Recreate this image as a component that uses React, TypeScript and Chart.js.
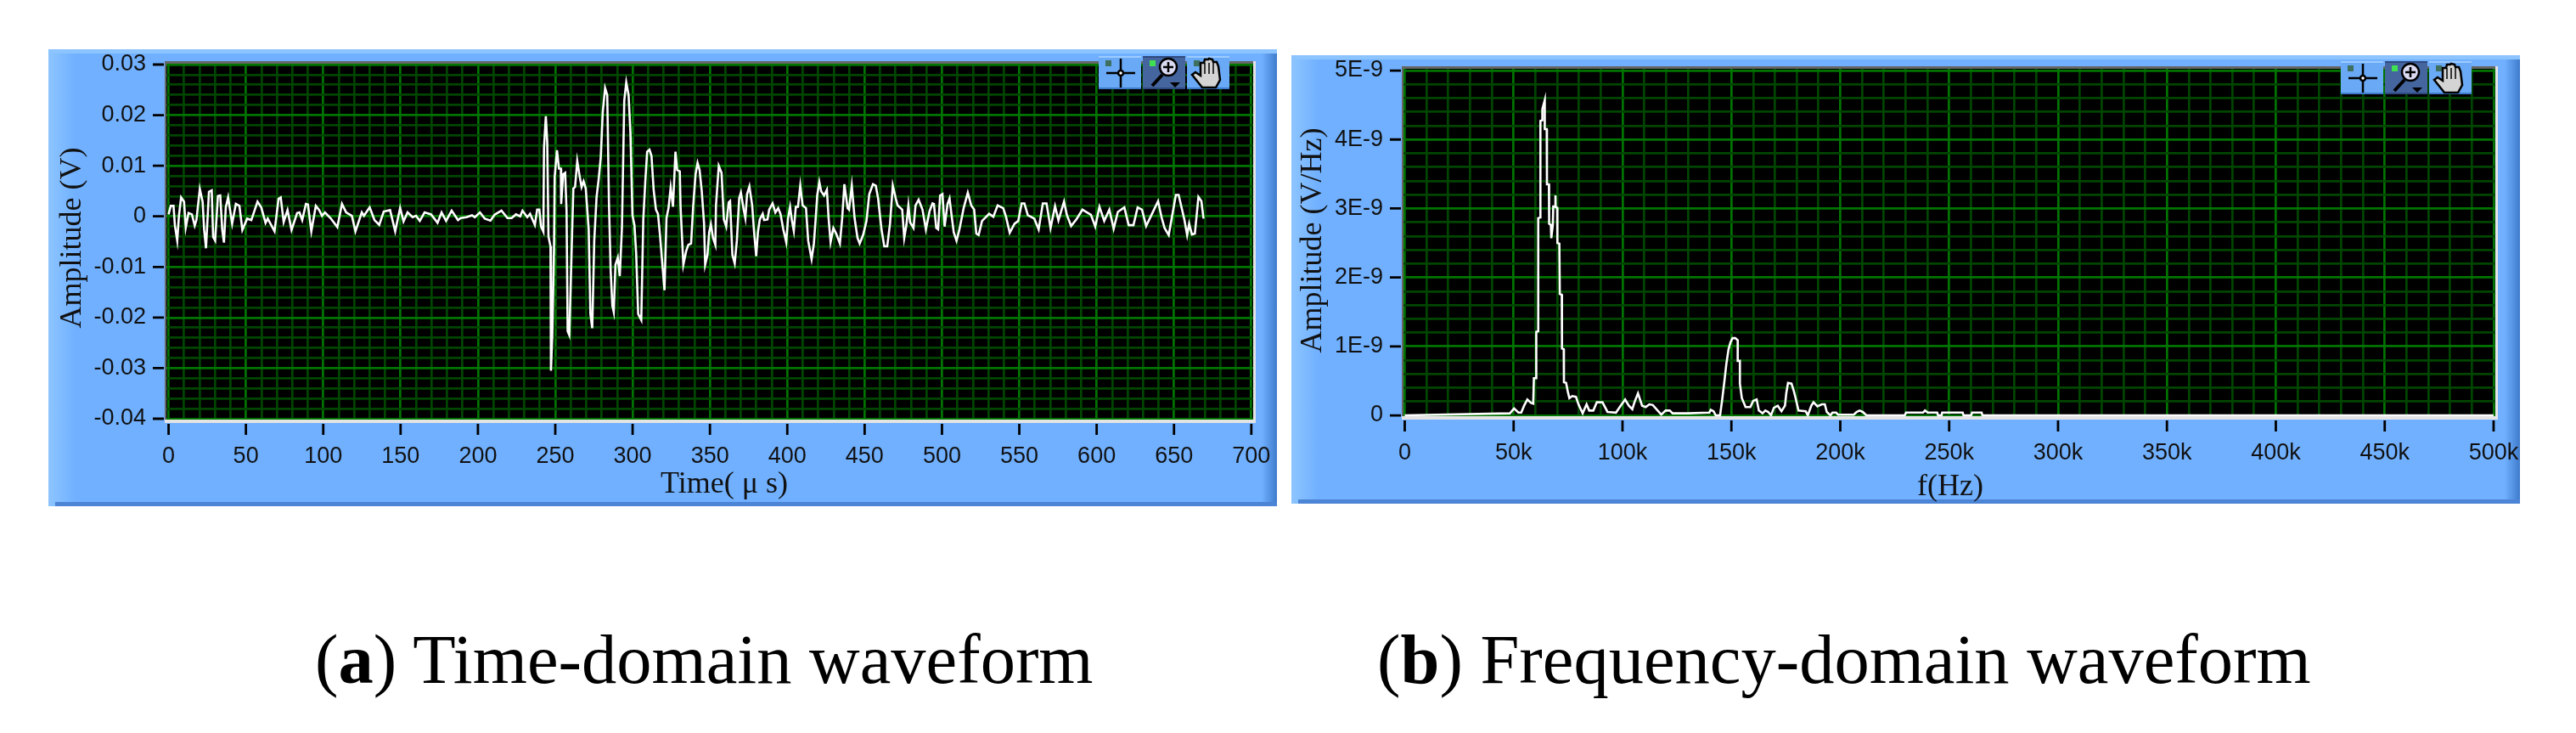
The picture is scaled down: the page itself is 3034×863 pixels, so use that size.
import React, { useEffect, useRef } from 'react';
import Chart from 'chart.js/auto';

// time-domain trace (turning points)
const timeUs = [
  0, 1.4, 3.2, 4.1, 5.6, 6.7, 8.1, 10, 11.1, 12.9, 15.1, 16.9, 18, 20.2, 22, 23, 24.2, 26.1, 27.9, 28.8,
  30.1, 31.9, 33.4, 34.7, 35.8, 37, 38.5, 41.1, 43.5, 45.8, 47.7, 50.8, 53.5, 57.5, 59.9, 62.7, 64.1, 68.5, 71.1, 72.5,
  74.4, 76.9, 79.5, 83.1, 84.6, 86.4, 88.8, 90.1, 92.3, 95.2, 97.4, 99.2, 101.1, 104.7, 109.1, 112.1, 114.8, 118.5, 120.8, 124.9,
  126.3, 130, 133.1, 136.2, 139.1, 143.2, 146.5, 149.7, 151.9, 154.5, 157.8, 160, 162.4, 165.5, 169.7, 173.9, 176.5, 179.4, 183, 187.1,
  188.9, 192.5, 196.2, 198, 201.3, 204.4, 208.1, 210.8, 215.2, 219.1, 221.8, 224.6, 227.3, 228.8, 231.9, 233.7, 236.8, 238.3, 239.7, 240.8,
  242.3, 242.7, 243.9, 244.8, 245.6, 246.9, 247.2, 248.1, 249.2, 249.6, 251.1, 252.4, 253.6, 253.8, 255.1, 256.4, 257.3, 258, 259.1, 260.6,
  261.7, 262.8, 264.2, 265.7, 267, 268.3, 269.7, 271.6, 272.7, 273.9, 275.2, 276.7, 278, 279.4, 280.7, 282.2, 283.6, 284.7, 285.8, 286.9,
  287.8, 288.9, 290.4, 291.7, 293.1, 294.6, 295.9, 297.4, 298.6, 299.9, 301.2, 302.3, 303.6, 305.6, 306.9, 308.2, 309.4, 310.9, 312.2, 313.6,
  315.1, 316.4, 317.7, 319.1, 320.6, 321.9, 323.2, 324.6, 326.1, 327.7, 328.8, 330.5, 331, 332.8, 334.7, 336, 337.8, 339.2, 340.7, 342,
  343.3, 344.7, 346.2, 346.9, 348.4, 349.5, 350.6, 352, 353.5, 353.9, 355.7, 357.5, 359, 360.5, 362.1, 363, 364.5, 366, 367.4, 368.9,
  370, 371.8, 372.9, 374, 375.5, 377.3, 378.4, 379.9, 381, 382.2, 384.1, 385, 387.2, 388.3, 390.5, 392.3, 394.1, 395.6, 397.4, 399.3,
  400.5, 401.8, 402.9, 404.2, 405.5, 406.9, 408.4, 409.9, 412.1, 413.5, 415.7, 417.2, 418.3, 419.4, 420.7, 421.9, 423.8, 425.6, 426.7, 428,
  429.8, 431.6, 434, 435.5, 436.9, 439, 439.9, 441.7, 443.5, 445.4, 446.8, 449, 451.2, 453, 455.4, 457.2, 458.7, 460.9, 462.7, 464.6,
  466.4, 468.2, 470.1, 471.3, 474.3, 475.6, 477, 478.3, 479.4, 481.6, 482.9, 484.9, 487.4, 489.6, 492, 493.9, 494.8, 496.3, 497.5, 498.8,
  500.3, 501.7, 503.6, 504.9, 506.1, 507.6, 509.4, 511.3, 514, 516.7, 518.9, 520.8, 522.2, 523.7, 525.9, 530.5, 533.2, 536, 539.6, 541.4,
  543.8, 546.9, 549.3, 551.5, 553.3, 555.5, 559.7, 562.5, 565.2, 567.6, 570.2, 573.1, 575.3, 578.9, 580.8, 583.5, 587.2, 590.8, 596.3, 599.1,
  601.8, 604.9, 608.2, 611, 613.7, 617.9, 620.7, 623.8, 626.5, 629.3, 632, 636.2, 639.7, 642.1, 643.9, 646.6, 651.2, 653, 656.7, 658.5,
  659.8, 661.6, 663.5, 665.8, 667.7, 669.1,
];
const amplitudeMv = [
  0.4, 2.07, 2.07, -1.84, -4.8, 0.11, 3.74, 2.9, -2.23, 0.67, 0.39, -1.84, -0.73, 5.42, 2.9, -2.68, -6.31, 4.86, 5.14, -4.08,
  -4.8, 4.02, 4.13, -2.68, -5.2, 1.79, 3.74, -1.45, 2.46, 2.07, -2.68, -0.45, -0.73, 2.9, 1.79, -1.28, -0.45, -2.96, 3.46, 3.74,
  -1.12, 1.23, -2.68, 0.67, 0.78, -0.73, 2.46, 2.35, -2.96, 2.07, 1.23, 0.11, 0.78, -0.34, -2.12, 2.46, 0.78, 0.11, -2.96, 0.78,
  0.11, 1.79, -0.73, -1.68, 0.95, 1.23, -2.96, 1.68, -1.01, 0.78, -0.17, 0.11, -0.89, 0.78, 0.39, -1.28, 0.78, -0.89, 1.12, -0.73,
  -0.34, -0.17, 0.22, -0.17, 0.78, -0.45, -0.84, 0.34, 1.12, -0.34, -0.34, 0.39, 0, 1.12, -0.17, 0.5, -1.68, 1.33, 1.33, -2.02,
  -3.03, 13.6, 19.8, 14.7, -3.98, -5.93, -30.5, -23.3, -5.93, 7.75, 13.06, 9.43, 9.43, 2.45, 8.31, 8.59, 1.05, -22.7, -23.5, -6.49,
  5.52, 5.8, 10.94, 8.03, 5.8, 6.92, 5.52, -2.58, -19.3, -22.1, -4.82, 3.84, 7.2, 11.66, 20.6, 25.35, 23.95, 2.73, -10.68, -17.66,
  -18.9, -9.56, -8.17, -11.8, -2.3, 22.84, 26.47, 23.95, 16.4, 0.21, -1.74, -7.33, -19.3, -20.5, -0.63, 6.92, 12.78, 13.17, 11.94, 5.24,
  1.33, 0.49, -3.7, -9, -14.6, -0.35, 1.61, 5.69, 1.89, 12.78, 9.15, 8.87, 1.89, -9.56, -6.77, -5.65, -5.37, 2.17, 8.31, 10.55,
  9.15, 4.96, -1.46, -9.56, -7.61, -3.14, -1.58, -4.26, -5.65, 2.17, 9.99, 8.59, -0.63, -2.02, 2.73, 3, -7.61, -9.28, -4.82, 3.56,
  4.68, 1.33, -0.35, 4.4, 5.91, 2.17, -2.58, -7.89, -3.14, -0.63, 0.49, -0.74, -0.63, 1.33, 2.56, 0.77, 1.61, 0.49, -2.58, -5.1,
  -0.35, 1.89, -0.63, -2.86, 1.89, 1.89, 6.08, 2.17, 1.61, -4.82, -8.45, -5.37, -0.63, 4.23, 6.8, 4.96, 4.12, 5.24, -0.35, -5.1,
  -2.3, -3.42, -5.37, -0.35, 6.36, 1.61, 1.33, 6.08, -0.35, -4.26, -5.37, -3.7, -0.91, 4.4, 6.36, 6.08, 3.56, -2.58, -5.93, -5.93,
  -1.46, 6.08, 3.56, 2.17, 1.33, -4.26, -1.74, 2.17, -1.18, -2.3, 2.17, 3.28, 1.33, -2.58, 1.05, 2.56, 2.45, -2.3, -2.58, 4.12,
  4.4, -2.02, 2.45, 3.56, 0.49, -3.14, -4.82, -2.58, 1.61, 4.68, 2.17, 1.33, -3.42, -3.7, -0.91, 0.49, -0.07, 2.17, 1.61, -0.07,
  -3.25, -1.46, -0.91, 2.56, 2.56, 0.21, -0.46, -2.58, 2.56, 2.56, -2.3, 2, -0.79, 2.89, 0.21, -1.91, -0.46, 1.33, 0.32, -2.02,
  1.89, -0.91, 1.33, -2.47, 0.88, 1.78, -1.74, -1.74, 1.78, 1.33, -1.91, 0.77, 3, -0.35, -2.3, -3.7, 4.23, 4.23, -0.63, -3.7,
  -1.46, -3.59, -3.42, 3.84, 3, -0.46,
];

// spectrum
const freqKHz = [
  0, 48.3, 50.2, 52.2, 53.5, 54.8, 56.3, 58, 59, 59.3, 60.4, 60.4, 61.3, 61.3, 62.2, 62.3, 63.2, 63.2, 64.3, 64.3,
  65.2, 65.3, 66.2, 66.3, 67.1, 67.3, 68, 68.2, 69.1, 69.2, 69.3, 70, 70.1, 71, 71.2, 72.1, 72.2, 73, 73.1, 74.1,
  74.9, 75.6, 76.9, 78.6, 79.9, 81.7, 83.5, 84.7, 86.6, 88.2, 90.8, 93.1, 97, 99.4, 101.2, 102.9, 104.5, 105.5, 107.1, 109,
  110.7, 112.3, 113.9, 117.8, 119.8, 121.7, 123, 130.1, 139.9, 140.5, 141.8, 142.8, 144.8, 145.7, 146.7, 147.7, 148.7, 149.6, 150.5, 151.8,
  152.9, 152.9, 153.9, 153.9, 154.8, 156.5, 158.7, 160, 161.6, 162.6, 164.3, 165.6, 166.9, 168.2, 169.5, 171.3, 173, 174.6, 175.2, 176,
  177.6, 178.6, 179.5, 180.8, 184.1, 185.1, 186.7, 187.7, 189.5, 191.5, 192.9, 193.8, 195.5, 196.4, 198.1, 199, 206.2, 207.5, 208.8, 210.3,
  212, 229.6, 230.2, 238, 238.9, 240.2, 244.5, 244.9, 246.5, 246.8, 256.2, 256.6, 260.1, 260.5, 264.9, 265.3, 500,
];
const amplitudeNvHz = [
  0, 0.03, 0.1, 0.04, 0.04, 0.14, 0.23, 0.18, 0.17, 0.54, 0.54, 1.21, 1.22, 2.86, 2.87, 4.27, 4.28, 4.44, 4.57, 4.15,
  4.15, 3.35, 3.35, 2.78, 2.76, 2.57, 2.76, 3.03, 3.03, 3.19, 3.02, 3.01, 2.5, 2.49, 1.76, 1.75, 0.97, 0.96, 0.48, 0.47,
  0.34, 0.25, 0.28, 0.27, 0.15, 0.03, 0.16, 0.07, 0.07, 0.19, 0.19, 0.05, 0.04, 0.15, 0.23, 0.14, 0.09, 0.19, 0.32, 0.14,
  0.12, 0.16, 0.15, 0.01, 0.07, 0.07, 0.03, 0.03, 0.04, 0.08, 0.06, 0, 0, 0.21, 0.47, 0.75, 0.96, 1.06, 1.12, 1.12,
  1.09, 0.79, 0.79, 0.46, 0.25, 0.12, 0.12, 0.21, 0.23, 0.07, 0.03, 0.07, 0.05, 0, 0.11, 0.14, 0.06, 0.14, 0.32, 0.47,
  0.46, 0.36, 0.25, 0.07, 0.06, 0, 0.14, 0.19, 0.13, 0.16, 0.16, 0.05, 0, 0.04, 0.04, 0.01, 0.01, 0.05, 0.07, 0.05,
  0, 0, 0.04, 0.04, 0.07, 0.04, 0.04, 0, 0, 0.04, 0.04, 0, 0, 0.04, 0.04, 0, 0,
];

const timeTicks = [0, 50, 100, 150, 200, 250, 300, 350, 400, 450, 500, 550, 600, 650, 700];
const voltTicks = [0.03, 0.02, 0.01, 0, -0.01, -0.02, -0.03, -0.04];
const voltLabels = ['0.03', '0.02', '0.01', '0', '-0.01', '-0.02', '-0.03', '-0.04'];
const freqTicks = [0, 50e3, 100e3, 150e3, 200e3, 250e3, 300e3, 350e3, 400e3, 450e3, 500e3];
const freqLabels = ['0', '50k', '100k', '150k', '200k', '250k', '300k', '350k', '400k', '450k', '500k'];
const densityTicks = [5e-9, 4e-9, 3e-9, 2e-9, 1e-9, 0];
const densityLabels = ['5E-9', '4E-9', '3E-9', '2E-9', '1E-9', '0'];

const PANEL_BLUE = '#70b0ff';
const GRID_MAJOR = '#007400';
const GRID_MINOR = '#004600';
const TICK_FONT = { family: 'Liberation Sans', size: 27 };

function withMinors(values: number[]) {
  // five grid cells between two labelled ticks
  const out: any[] = [];
  values.forEach((v, i) => {
    out.push({ value: v, major: true });
    if (i < values.length - 1) for (let k = 1; k < 5; k++) out.push({ value: v + ((values[i + 1] - v) * k) / 5, major: false });
  });
  return out;
}

function drawButton(ctx: any, x: number, y: number, kind: string) {
  const w = 50, h = 39;
  const active = kind === 'zoom';
  ctx.fillStyle = active ? '#45659f' : '#69a9f5';
  ctx.fillRect(x, y, w, h);
  ctx.fillStyle = active ? '#2f4a80' : '#9ccbff';
  ctx.fillRect(x, y, w, 2);
  ctx.fillStyle = active ? '#2f4a80' : '#3f7ccc';
  ctx.fillRect(x, y + h - 2, w, 2);
  ctx.fillStyle = active ? '#40e050' : '#3f6f5f';
  ctx.fillRect(x + 8, y + 5, 7, 7);
  ctx.strokeStyle = '#000';
  ctx.fillStyle = '#000';
  ctx.lineWidth = 2.5;
  const cx = x + 26, cy = y + 20;
  if (kind === 'cross') {
    ctx.beginPath();
    ctx.moveTo(cx - 17, cy); ctx.lineTo(cx + 17, cy);
    ctx.moveTo(cx, cy - 17); ctx.lineTo(cx, cy + 17);
    ctx.stroke();
    ctx.fillStyle = '#fff';
    ctx.beginPath(); ctx.arc(cx, cy, 3, 0, Math.PI * 2); ctx.fill(); ctx.stroke();
  } else if (kind === 'zoom') {
    ctx.fillStyle = '#d9d9f2';
    ctx.beginPath(); ctx.arc(cx + 4, cy - 7, 10, 0, Math.PI * 2); ctx.fill(); ctx.stroke();
    ctx.beginPath();
    ctx.moveTo(cx - 2, cy - 7); ctx.lineTo(cx + 10, cy - 7);
    ctx.moveTo(cx + 4, cy - 13); ctx.lineTo(cx + 4, cy - 1);
    ctx.stroke();
    ctx.lineWidth = 4;
    ctx.beginPath(); ctx.moveTo(cx - 3, cy + 2); ctx.lineTo(cx - 15, cy + 15); ctx.stroke();
    ctx.fillStyle = '#000';
    ctx.beginPath(); ctx.moveTo(cx + 6, cy + 11); ctx.lineTo(cx + 18, cy + 11); ctx.lineTo(cx + 12, cy + 17); ctx.closePath(); ctx.fill();
  } else {
    ctx.fillStyle = '#d4d4d4';
    ctx.beginPath();
    ctx.moveTo(cx - 8, cy + 17); ctx.lineTo(cx - 20, cy + 2); ctx.lineTo(cx - 16, cy - 1); ctx.lineTo(cx - 10, cy + 3);
    ctx.lineTo(cx - 10, cy - 12); ctx.lineTo(cx - 6, cy - 12); ctx.lineTo(cx - 5, cy - 16); ctx.lineTo(cx - 1, cy - 16);
    ctx.lineTo(cx, cy - 17); ctx.lineTo(cx + 4, cy - 16); ctx.lineTo(cx + 5, cy - 13); ctx.lineTo(cx + 9, cy - 13);
    ctx.lineTo(cx + 11, cy - 8); ctx.lineTo(cx + 13, cy + 8); ctx.lineTo(cx + 8, cy + 17);
    ctx.closePath(); ctx.fill(); ctx.stroke();
    ctx.lineWidth = 1.5;
    ctx.beginPath();
    [-5, 0, 5].forEach((d) => { ctx.moveTo(cx + d, cy - 12); ctx.lineTo(cx + d, cy + 1); });
    ctx.stroke();
  }
}

// LabVIEW-style front panel around the plot
const panelPlugin = {
  id: 'panel',
  beforeDraw(chart: any) {
    const { ctx, width: w, height: h } = chart;
    ctx.save();
    ctx.fillStyle = PANEL_BLUE;
    ctx.fillRect(0, 0, w, h);
    let g = ctx.createLinearGradient(0, 0, 32, 0);
    g.addColorStop(0, '#8dc5ff');
    g.addColorStop(1, PANEL_BLUE);
    ctx.fillStyle = g;
    ctx.fillRect(0, 0, 32, h);
    ctx.fillStyle = '#8cc4ff';
    ctx.fillRect(0, 0, w, 5);
    g = ctx.createLinearGradient(w - 18, 0, w, 0);
    g.addColorStop(0, PANEL_BLUE);
    g.addColorStop(1, '#3f7bcc');
    ctx.fillStyle = g;
    ctx.fillRect(w - 18, 5, 18, h - 5);
    ctx.fillStyle = '#4c84d6';
    ctx.fillRect(8, h - 5, w - 8, 5);
    ctx.fillStyle = '#000';
    const a = chart.chartArea;
    ctx.fillRect(a.left, a.top, a.right - a.left, a.bottom - a.top);
    ctx.restore();
  },
  afterDraw(chart: any, _args: any, opts: any) {
    const { ctx, chartArea: a, scales } = chart;
    ctx.save();
    // frame of the plot
    ctx.fillStyle = '#666';
    ctx.fillRect(a.left - 2, a.top - 3, a.right - a.left + 2, 3);
    ctx.fillRect(a.left - 2, a.top - 3, 2, a.bottom - a.top + 3);
    ctx.fillStyle = '#e4e4e4';
    ctx.fillRect(a.left - 2, a.bottom, a.right - a.left + 5, 4);
    ctx.fillRect(a.right, a.top - 3, 3, a.bottom - a.top + 3);
    // tick marks stand a little off the plot
    ctx.strokeStyle = '#000';
    ctx.lineWidth = 2.8;
    ctx.beginPath();
    scales.x.ticks.filter((t: any) => t.major).forEach((t: any) => {
      const px = scales.x.getPixelForValue(t.value);
      ctx.moveTo(px, a.bottom + 5);
      ctx.lineTo(px, a.bottom + 18);
    });
    scales.y.ticks.filter((t: any) => t.major).forEach((t: any) => {
      const py = scales.y.getPixelForValue(t.value);
      ctx.moveTo(a.left - 16, py);
      ctx.lineTo(a.left - 3, py);
    });
    ctx.stroke();
    // axis names
    ctx.fillStyle = '#111';
    ctx.font = '36px "Liberation Serif"';
    ctx.textAlign = 'center';
    ctx.textBaseline = 'alphabetic';
    ctx.fillText(opts.xTitle, opts.xTitleAt[0], opts.xTitleAt[1]);
    ctx.save();
    ctx.translate(opts.yTitleAt[0], opts.yTitleAt[1]);
    ctx.rotate(-Math.PI / 2);
    ctx.fillText(opts.yTitle, 0, 0);
    ctx.restore();
    // graph palette
    ['cross', 'zoom', 'hand'].forEach((kind, i) => drawButton(ctx, opts.toolsAt[0] + i * 52, opts.toolsAt[1], kind));
    ctx.restore();
  },
};

function Graph(props: any) {
  const ref = useRef<HTMLCanvasElement>(null);
  const { box, plot, xs, ys, xRange, yRange, xTicks, yTicks, xLabels, yLabels, xTitle, yTitle, xTitleAt, yTitleAt, toolsAt } = props;
  useEffect(() => {
    if (!ref.current) return;
    const gridOf = { color: (c: any) => (c.tick && c.tick.major ? GRID_MAJOR : GRID_MINOR), lineWidth: 2.7, drawTicks: false };
    const labelOf = (list: string[], ticks: number[]) => (_v: any, i: number, all: any[]) =>
      all[i].major ? list[ticks.indexOf(all[i].value)] : '';
    const chart = new Chart(ref.current, {
      type: 'line',
      data: {
        datasets: [{
          data: xs.map((x: number, i: number) => ({ x, y: ys[i] })),
          borderColor: '#ffffff',
          borderWidth: 2.6,
          pointRadius: 0,
          tension: 0,
          clip: false as any,
        }],
      },
      options: {
        animation: false,
        responsive: false,
        devicePixelRatio: 1,
        layout: { padding: { top: plot.top - box.top, right: box.right - plot.right, left: 0, bottom: 0 } },
        plugins: {
          legend: { display: false },
          tooltip: { enabled: false },
          panel: { xTitle, yTitle, xTitleAt, yTitleAt, toolsAt },
        } as any,
        scales: {
          x: {
            type: 'linear',
            min: xRange[0],
            max: xRange[1],
            border: { display: false },
            grid: gridOf,
            afterBuildTicks: (s: any) => { s.ticks = withMinors(xTicks); },
            afterFit: (s: any) => { s.height = box.bottom - plot.bottom; s.paddingLeft = 0; s.paddingRight = 0; },
            ticks: { autoSkip: false, maxRotation: 0, minRotation: 0, padding: props.xLabelGap, color: '#111', font: TICK_FONT, callback: labelOf(xLabels, xTicks) },
          },
          y: {
            type: 'linear',
            min: yRange[0],
            max: yRange[1],
            border: { display: false },
            grid: gridOf,
            afterBuildTicks: (s: any) => { s.ticks = withMinors(yTicks); },
            afterFit: (s: any) => { s.width = plot.left - box.left; s.paddingTop = 0; s.paddingBottom = 0; },
            ticks: { autoSkip: false, padding: 24, color: '#111', font: TICK_FONT, callback: labelOf(yLabels, yTicks) },
          },
        },
      },
      plugins: [panelPlugin],
    } as any);
    return () => chart.destroy();
  }, []);
  return (
    <canvas
      ref={ref}
      width={box.right - box.left}
      height={box.bottom - box.top}
      style={{ position: 'absolute', left: box.left, top: box.top, display: 'block' }}
    />
  );
}

const captionStyle: React.CSSProperties = {
  position: 'absolute',
  fontFamily: 'Liberation Serif',
  fontSize: 82.5,
  lineHeight: '100px',
  color: '#000',
  whiteSpace: 'nowrap',
};

export default function App() {
  return (
    <div style={{ position: 'absolute', left: 0, top: 0, width: 3034, height: 863, background: '#fff', overflow: 'hidden' }}>
      <Graph
        box={{ left: 57, top: 58, right: 1504, bottom: 596 }}
        plot={{ left: 196, top: 75, right: 1476, bottom: 494 }}
        xs={timeUs}
        ys={amplitudeMv.map((v) => v / 1000)}
        xRange={[-1.4, 701.2]}
        yRange={[-0.04017, 0.03017]}
        xTicks={timeTicks}
        yTicks={voltTicks}
        xLabels={timeTicks.map(String)}
        yLabels={voltLabels}
        xLabelGap={27}
        xTitle={'Time( μ s)'}
        yTitle="Amplitude (V)"
        xTitleAt={[796, 522]}
        yTitleAt={[38, 222]}
        toolsAt={[1237, 8]}
      />
      <Graph
        box={{ left: 1521, top: 65, right: 2968, bottom: 593 }}
        plot={{ left: 1653, top: 81, right: 2939, bottom: 490 }}
        xs={freqKHz.map((v) => v * 1000)}
        ys={amplitudeNvHz.map((v) => v * 1e-9)}
        xRange={[-585, 500800]}
        yRange={[-1.2e-11, 5.025e-9]}
        xTicks={freqTicks}
        yTicks={densityTicks}
        xLabels={freqLabels}
        yLabels={densityLabels}
        xLabelGap={27}
        xTitle="f(Hz)"
        yTitle="Amplitude (V/Hz)"
        xTitleAt={[776, 518]}
        yTitleAt={[35, 218]}
        toolsAt={[1236, 7]}
      />
      <div style={{ ...captionStyle, left: 371, top: 726 }}>(<b>a</b>) Time-domain waveform</div>
      <div style={{ ...captionStyle, left: 1622, top: 726 }}>(<b>b</b>) Frequency-domain waveform</div>
    </div>
  );
}
